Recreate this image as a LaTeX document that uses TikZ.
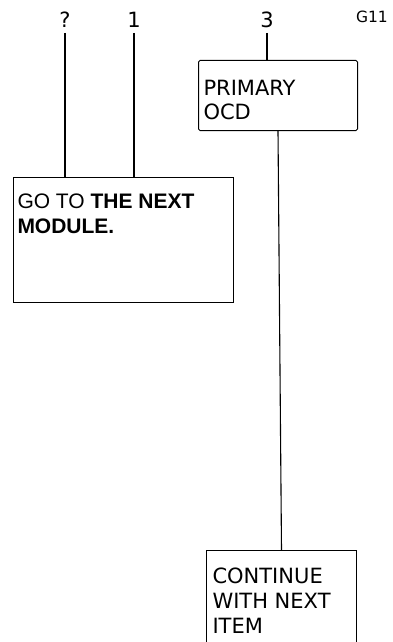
\documentclass[tikz,border=0pt]{standalone}
\usepackage{fontspec}
\setmainfont{DejaVu Sans}
\newfontfamily\arialf{Liberation Sans}
\tikzset{
  x=1pt, y=-1pt,
  boxst/.style={draw=black, line width=1pt, inner sep=0pt, anchor=north west},
  numst/.style={inner sep=0pt, outer sep=0pt, anchor=base, font=\fontsize{21pt}{24pt}\selectfont},
  wire/.style={draw=black, line width=1.1pt}
}
\newcommand\boxtxt[6]{\parbox[c][#2][t]{#1}{\raggedright#6\leftskip=#3\relax\rule{0pt}{#4}#5}}
\begin{document}
\begin{tikzpicture}
\useasboundingbox (0,0) rectangle (393,642);
% top labels
\node[numst] (q) at (65,28) {?};
\node[numst] (one) at (134,28) {1};
\node[numst] (three) at (267,28) {3};
\node[inner sep=0pt, anchor=base east, font=\fontsize{15.5pt}{18pt}\selectfont] (g) at (388,23) {G11};
% boxes
\node[boxst, rounded corners=1.5pt] (p) at (198,60)
  {\boxtxt{159pt}{70pt}{5pt}{35pt}{PRIMARY\\OCD}{\fontsize{21pt}{23.5pt}\selectfont}};
\node[boxst] (go) at (13,177)
  {\boxtxt{220pt}{125pt}{4pt}{31pt}{GO TO \textbf{THE NEXT}\\\textbf{MODULE.}}{\arialf\fontsize{21pt}{25pt}\selectfont}};
\node[boxst] (c) at (206,550)
  {\boxtxt{150pt}{120pt}{6pt}{33pt}{CONTINUE\\WITH NEXT\\ITEM}{\fontsize{21pt}{25pt}\selectfont}};
% connectors
\path[wire] ([yshift=-5pt]q.base) -- (q.base |- go.north);
\path[wire] ([yshift=-5pt]one.base) -- (one.base |- go.north);
\path[wire] ([yshift=-5pt]three.base) -- (three.base |- p.north);
\path[wire] (p.south) -- (c.north);
\end{tikzpicture}
\end{document}
